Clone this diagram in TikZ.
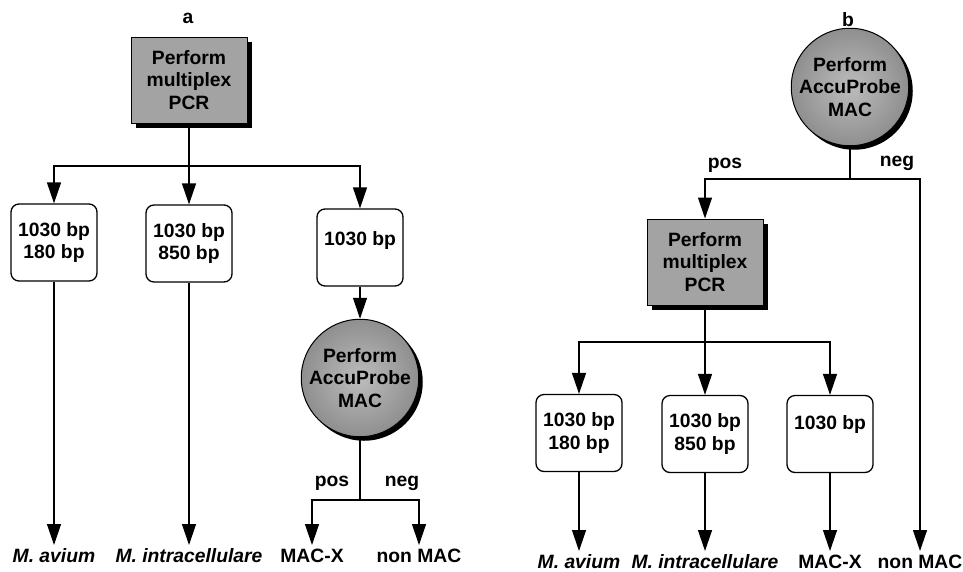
\documentclass[tikz,border=0pt]{standalone}
\usepackage{fontspec}
\setmainfont{Liberation Sans}
\usetikzlibrary{arrows.meta,shadows}
\begin{document}
\begin{tikzpicture}[x=1pt,y=-1pt,
  every node/.style={font=\fontsize{19.3}{22.5}\selectfont\bfseries},
  conn/.style={line width=1.3pt},
  arr/.style={conn,-{Triangle[length=21pt,width=14pt]}},
  pcrbox/.style={draw,line width=1pt,fill=black!36,minimum width=116pt,minimum height=86pt,align=center,inner sep=0pt,
    drop shadow={shadow xshift=5pt,shadow yshift=-5pt,fill=black,opacity=1}},
  probe/.style={circle,draw,line width=1pt,inner color=black!26,outer color=black!44,minimum size=106pt,align=center,inner sep=0pt,
    drop shadow={shadow xshift=4pt,shadow yshift=-4pt,fill=black,opacity=1}},
  result/.style={draw,rounded corners=8pt,line width=1.3pt,fill=white,minimum width=86pt,minimum height=77pt,align=center,inner sep=0pt},
  endlabel/.style={anchor=north,inner sep=3pt,text height=14pt,text depth=4pt},
  branchlabel/.style={inner sep=0pt}
]
\useasboundingbox (0,0) rectangle (963,571);

% ---------- panel a ----------
\node (ta) at (188,18) {a};
\node[pcrbox] (pcrA) at (189,80) {Perform\\multiplex\\PCR};
\coordinate (jA0) at (189,166);
\node[result] (a1) at (54,242.5) {1030 bp\\180 bp};
\node[result] (a2) at (189,243.5) {1030 bp\\850 bp};
\node[result,label={[yshift=6.5pt]center:1030 bp}] (a3) at (360,247.5) {};
\node[probe] (probeA) at (360,378) {Perform\\AccuProbe\\MAC};
\coordinate (jA1) at (360,500);
\node[branchlabel] (posA) at (332,483) {pos};
\node[branchlabel] (negA) at (402,483) {neg};
\node[endlabel] (avA) at (54,545) {\itshape M. avium};
\node[endlabel] (inA) at (189,545) {\itshape M. intracellulare};
\node[endlabel] (mxA) at (312,545) {MAC-X};
\node[endlabel] (nmA) at (419,545) {non MAC};

\draw[conn] (pcrA.south) -- (jA0);
\draw[arr] (jA0) -| (a1.north);
\draw[arr] (jA0) -- (a2.north);
\draw[arr] (jA0) -| (a3.north);
\draw[arr] (a1.south) -- (avA.north);
\draw[arr] (a2.south) -- (inA.north);
\draw[arr] (a3.south) -- (probeA.north);
\draw[conn] (probeA.south) -- (jA1);
\draw[arr] (jA1) -| (mxA.north);
\draw[arr] (jA1) -| (nmA.north);

% ---------- panel b ----------
\node (tb) at (848,20) {b};
\node[probe] (probeB) at (850,87) {Perform\\AccuProbe\\MAC};
\coordinate (jB0) at (850,179);
\node[branchlabel] (posB) at (725,165) {pos};
\node[branchlabel] (negB) at (897,163) {neg};
\node[pcrbox] (pcrB) at (705,262) {Perform\\multiplex\\PCR};
\coordinate (jB1) at (705,342);
\node[result] (b1) at (579,433) {1030 bp\\180 bp};
\node[result] (b2) at (705,434) {1030 bp\\850 bp};
\node[result,label={[yshift=9pt]center:1030 bp}] (b3) at (830,434) {};
\node[endlabel] (avB) at (579,551) {\itshape M. avium};
\node[endlabel] (inB) at (705,551) {\itshape M. intracellulare};
\node[endlabel] (mxB) at (830,551) {MAC-X};
\node[endlabel] (nmB) at (920,551) {non MAC};

\draw[conn] (probeB.south) -- (jB0);
\draw[arr] (jB0) -| (pcrB.north);
\draw[arr] (jB0) -| (nmB.north);
\draw[conn] (pcrB.south) -- (jB1);
\draw[arr] (jB1) -| (b1.north);
\draw[arr] (jB1) -- (b2.north);
\draw[arr] (jB1) -| (b3.north);
\draw[arr] (b1.south) -- (avB.north);
\draw[arr] (b2.south) -- (inB.north);
\draw[arr] (b3.south) -- (mxB.north);
\end{tikzpicture}
\end{document}
